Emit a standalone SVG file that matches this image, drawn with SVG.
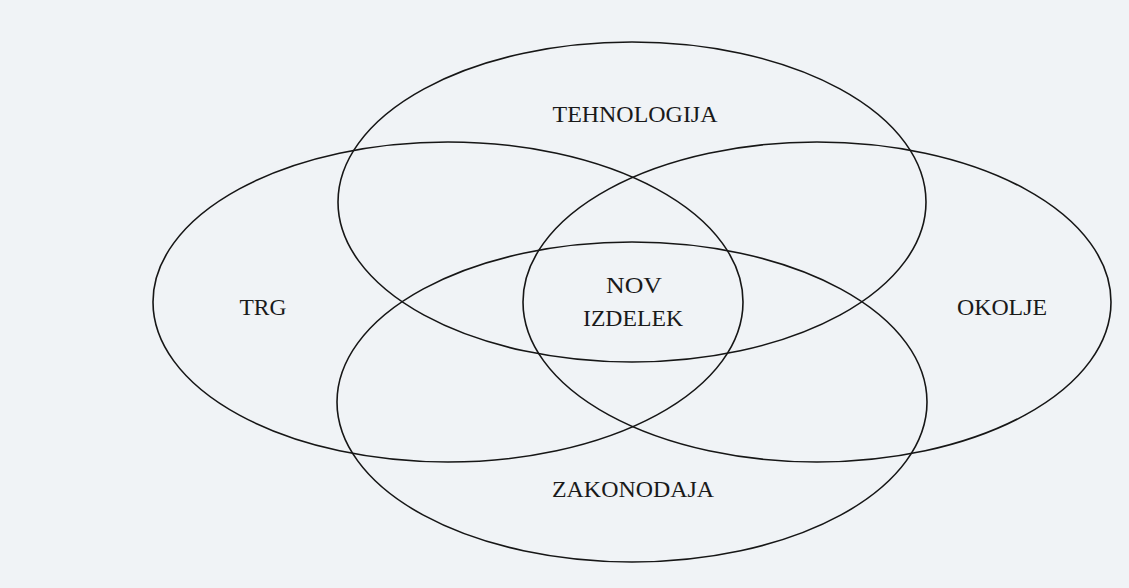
<svg xmlns="http://www.w3.org/2000/svg" width="1129" height="588" viewBox="0 0 1129 588">
<style>
.ell{fill:none;stroke:#161616;stroke-width:1.6}
.lbl{font-family:"Liberation Serif","Times New Roman",serif;font-size:24px;fill:#1a1a1a;text-anchor:middle}
</style>
<rect x="0" y="0" width="1129" height="588" fill="#f0f3f6"/>
<g id="connectors"></g>
<g id="tehnologija">
<ellipse class="ell" cx="632" cy="202" rx="294" ry="160"/>
<text class="lbl" x="635" y="122" textLength="165" lengthAdjust="spacingAndGlyphs">TEHNOLOGIJA</text>
</g>
<g id="trg">
<ellipse class="ell" cx="448" cy="302" rx="295" ry="160"/>
<text class="lbl" x="263" y="315" textLength="47" lengthAdjust="spacingAndGlyphs">TRG</text>
</g>
<g id="okolje">
<ellipse class="ell" cx="817" cy="302" rx="294" ry="160"/>
<text class="lbl" x="1002" y="315" textLength="90" lengthAdjust="spacingAndGlyphs">OKOLJE</text>
</g>
<g id="zakonodaja">
<ellipse class="ell" cx="632" cy="402" rx="295" ry="160"/>
<text class="lbl" x="633" y="497" textLength="162" lengthAdjust="spacingAndGlyphs">ZAKONODAJA</text>
</g>
<g id="nov-izdelek">
<text class="lbl" x="634" y="293" textLength="56" lengthAdjust="spacingAndGlyphs">NOV</text>
<text class="lbl" x="633" y="326" textLength="100" lengthAdjust="spacingAndGlyphs">IZDELEK</text>
</g>
</svg>
